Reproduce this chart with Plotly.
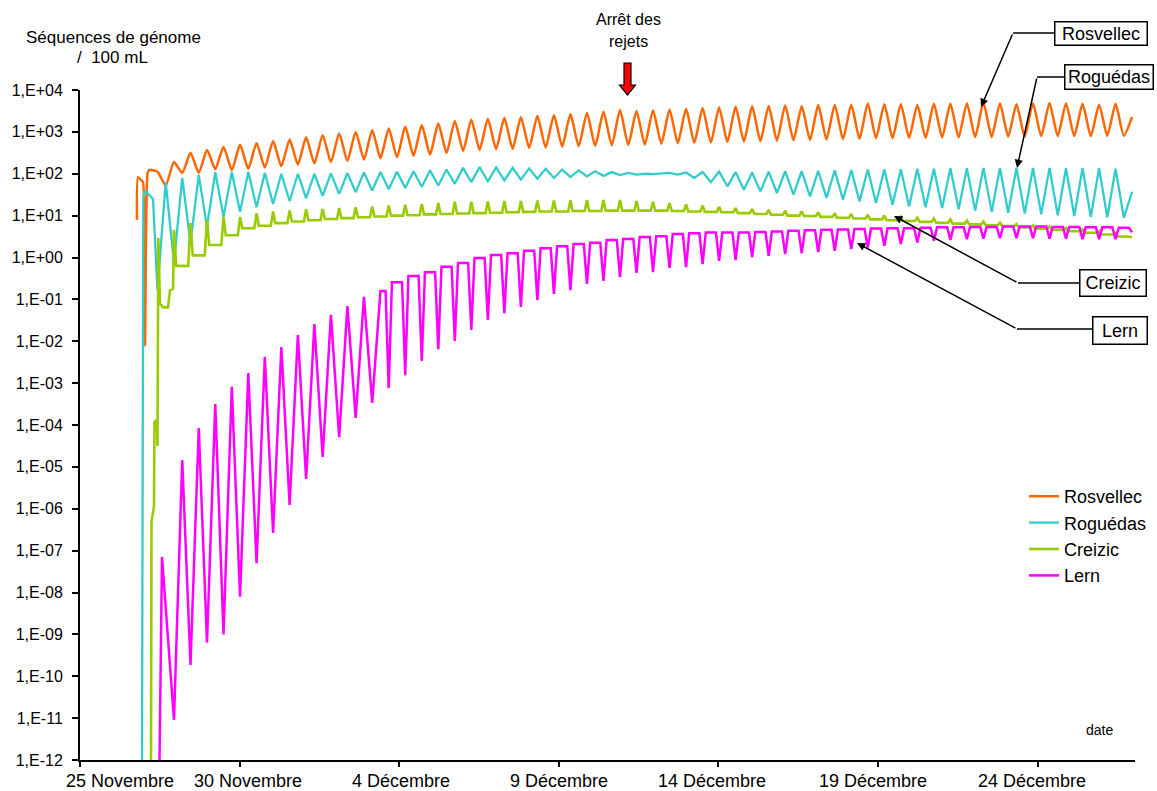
import numpy as np
import plotly.graph_objects as go

FONT = "Liberation Sans, Arial, Helvetica, sans-serif"

# ---------------------------------------------------------------- axes
# time is counted in days after 25 November, 00:00
x_tick_days = [0, 5, 10, 15, 20, 25, 30]
x_tick_labels = ["25 Novembre", "30 Novembre", "4 Décembre", "9 Décembre",
                 "14 Décembre", "19 Décembre", "24 Décembre"]
y_tick_exponents = [-12, -11, -10, -9, -8, -7, -6, -5, -4, -3, -2, -1, 0, 1, 2, 3, 4]
y_tick_labels = ["1,E-12", "1,E-11", "1,E-10", "1,E-09", "1,E-08", "1,E-07",
                 "1,E-06", "1,E-05", "1,E-04", "1,E-03", "1,E-02", "1,E-01",
                 "1,E+00", "1,E+01", "1,E+02", "1,E+03", "1,E+04"]

# ---------------------------------------------------------------- tides
# semi-diurnal schedule: high water k is at first_high_water + k * period
first_high_water_day = 1.909
tide_period_day = 0.5175
tide_count = 61

# ---------------------------------------------------------------- series
# all concentrations are log10(genome sequences / 100 mL)
# "hw" = value at high water k, "lw" = value at the following low water

# Rosvellec
rosvellec_onset_day = [1.786, 1.817, 1.911, 1.974, 2.036, 2.115, 2.162]
rosvellec_onset = [0.90, 1.92, 1.85, 1.80, -2.10, 2.00, 2.09]
rosvellec_hw_first = 1
rosvellec_hw = [2.05, 2.28, 2.50, 2.57, 2.64, 2.69, 2.73, 2.78, 2.82, 2.87,
                2.92, 2.96, 3.00, 3.04, 3.08, 3.12, 3.16, 3.20, 3.26, 3.29,
                3.31, 3.33, 3.35, 3.38, 3.40, 3.42, 3.45, 3.48, 3.52, 3.50,
                3.51, 3.53, 3.55, 3.57, 3.58, 3.60, 3.61, 3.62, 3.63, 3.61,
                3.64, 3.64, 3.65, 3.68, 3.66, 3.66, 3.64, 3.67, 3.67, 3.68,
                3.70, 3.68, 3.66, 3.68, 3.69, 3.68, 3.67, 3.65, 3.67, 3.36]
rosvellec_lw_first = 1
rosvellec_lw = [1.72, 2.02, 2.02, 2.11, 2.09, 2.12, 2.15, 2.18, 2.22, 2.25,
                2.28, 2.31, 2.34, 2.37, 2.40, 2.43, 2.46, 2.50, 2.55, 2.57,
                2.59, 2.60, 2.62, 2.63, 2.65, 2.66, 2.67, 2.68, 2.69, 2.70,
                2.72, 2.73, 2.74, 2.75, 2.76, 2.77, 2.78, 2.79, 2.80, 2.81,
                2.82, 2.83, 2.84, 2.85, 2.85, 2.86, 2.86, 2.87, 2.87, 2.88,
                2.88, 2.89, 2.89, 2.90, 2.90, 2.90, 2.90, 2.91, 2.91]

# Roguédas
roguedas_onset_day = [1.942, 1.983, 2.036, 2.099, 2.193, 2.287]
roguedas_onset = [-12.0, 1.42, 1.60, 1.55, 1.50, 1.40]
roguedas_hw_first = 1
roguedas_hw = [-0.78, -0.13, 0.35, 0.73, 0.97, 1.09, 1.20, 1.28, 1.35, 1.42,
               1.47, 1.52, 1.56, 1.60, 1.63, 1.66, 1.69, 1.72, 1.76, 1.80,
               1.82, 1.84, 1.86, 1.88, 1.90, 1.92, 1.94, 1.95, 1.97, 1.98,
               1.99, 2.02, 2.03, 2.04, 2.05, 2.04, 2.03, 2.05, 2.06, 2.06,
               2.07, 2.08, 2.09, 2.10, 2.10, 2.11, 2.12, 2.12, 2.13, 2.13,
               2.14, 2.14, 2.14, 2.14, 2.14, 2.13, 2.13, 2.13, 2.12, 1.57]
roguedas_lw_first = 1
roguedas_lw = [1.80, 1.90, 1.97, 2.04, 2.04, 2.04, 2.02, 2.00, 2.00, 2.00,
               2.01, 2.02, 2.03, 2.04, 2.05, 2.06, 2.08, 2.10, 2.14, 2.16,
               2.15, 2.14, 2.13, 2.12, 2.10, 2.08, 2.06, 2.04, 2.02, 2.00,
               2.00, 1.98, 1.90, 1.80, 1.70, 1.62, 1.58, 1.54, 1.50, 1.46,
               1.42, 1.38, 1.34, 1.30, 1.26, 1.22, 1.20, 1.18, 1.15, 1.12,
               1.09, 1.07, 1.05, 1.03, 1.01, 0.99, 0.97, 0.96, 0.95]

# Creizic
creizic_onset_day = [2.224, 2.240, 2.318, 2.334, 2.412, 2.428, 2.453,
                     2.506, 2.600, 2.757, 2.820, 2.914]
creizic_onset = [-12.0, -6.30, -5.95, -3.93, -3.88, -4.50, 0.47,
                 -1.10, -1.19, -1.19, -0.78, -0.75]
creizic_hw_first = 2
creizic_hw = [0.66, 0.82, 0.90, 0.97, 0.97, 1.06, 1.10, 1.12, 1.15,
              1.16, 1.18, 1.20, 1.22, 1.24, 1.26, 1.28, 1.30, 1.33, 1.33,
              1.34, 1.35, 1.35, 1.36, 1.36, 1.37, 1.37, 1.37, 1.37, 1.35,
              1.33, 1.30, 1.27, 1.24, 1.21, 1.18, 1.16, 1.14, 1.12, 1.10,
              1.08, 1.06, 1.04, 1.02, 1.00, 0.97, 0.95, 0.93, 0.91, 0.88,
              0.86, 0.83, 0.80, 0.77, 0.74, 0.71, 0.67, 0.63, 0.58, 0.49]
creizic_lw_first = 2
creizic_lw = [-0.20, 0.05, 0.30, 0.53, 0.70, 0.76, 0.82, 0.86, 0.89,
              0.92, 0.94, 0.96, 0.98, 1.00, 1.01, 1.03, 1.04, 1.05, 1.06,
              1.07, 1.08, 1.09, 1.10, 1.10, 1.11, 1.11, 1.12, 1.12, 1.12,
              1.12, 1.11, 1.10, 1.09, 1.08, 1.06, 1.04, 1.02, 1.00, 0.99,
              0.97, 0.95, 0.93, 0.91, 0.89, 0.87, 0.85, 0.83, 0.81, 0.79,
              0.77, 0.75, 0.72, 0.69, 0.66, 0.63, 0.59, 0.55, 0.50]

# Lern (minimum at high water, maximum at low water)
lern_onset_day = [2.491, 2.522, 2.569]
lern_onset = [-12.0, -10.0, -7.15]
lern_hw_first = 2
lern_hw = [-11.04, -9.73, -9.20, -9.00, -8.10, -7.30, -6.58, -5.91, -5.29,
           -4.76, -4.29, -3.83, -3.47, -3.12, -2.81, -2.47, -2.19, -1.99, -1.73,
           -1.49, -1.33, -1.18, -1.02, -0.87, -0.78, -0.63, -0.56, -0.47, -0.37,
           -0.35, -0.25, -0.23, -0.16, -0.08, -0.06, 0.01, 0.04, 0.08, 0.10,
           0.13, 0.16, 0.20, 0.24, 0.28, 0.32, 0.36, 0.40, 0.42, 0.44,
           0.45, 0.46, 0.46, 0.46, 0.45, 0.45, 0.44, 0.44, 0.44, 0.60]
lern_lw_first = 1
lern_lw = [-6.27, -4.84, -4.07, -3.50, -3.09, -2.76, -2.37, -2.14, -1.85, -1.59,
           -1.37, -1.16, -0.94, -0.80, -0.59, -0.44, -0.35, -0.22, -0.13, -0.01,
           0.06, 0.10, 0.16, 0.22, 0.27, 0.32, 0.35, 0.42, 0.44, 0.49,
           0.51, 0.56, 0.58, 0.60, 0.60, 0.60, 0.61, 0.62, 0.64, 0.65,
           0.66, 0.67, 0.68, 0.69, 0.70, 0.70, 0.71, 0.72, 0.72, 0.73,
           0.73, 0.74, 0.74, 0.74, 0.73, 0.73, 0.72, 0.72, 0.71]

# ---------------------------------------------------------------- layout geometry (pixels)
PLOT_L, PLOT_R, PLOT_T, PLOT_B = 80, 1135, 90, 760
X_RANGE = [0, 33.05]


def px_x(px):
    return (px - PLOT_L) / (PLOT_R - PLOT_L)


def px_y(py):
    return (PLOT_B - py) / (PLOT_B - PLOT_T)


hw_days = first_high_water_day + tide_period_day * np.arange(tide_count)
lw_days = hw_days + tide_period_day / 2


def tide_curve(onset_day, onset, hw_first, hw, lw_first, lw,
               spike=None, spike_from=0):
    """Join onset points and the high/low water values into one polyline.
    With `spike` (from tide `spike_from` on), the high-water value is a narrow
    excursion and the neighbouring low-water level is held until `spike` days
    before/after it."""
    lw_map = {lw_first + i: v for i, v in enumerate(lw)}
    pts = list(zip(onset_day, onset))
    for i, v in enumerate(hw):
        k = hw_first + i
        narrow = spike is not None and k >= spike_from
        if narrow and (k - 1) in lw_map:
            pts.append((hw_days[k] - spike, lw_map[k - 1]))
        pts.append((hw_days[k], v))
        if k in lw_map:
            if narrow:
                pts.append((hw_days[k] + spike, lw_map[k]))
            pts.append((lw_days[k], lw_map[k]))
    pts.sort(key=lambda p: p[0])
    t = np.array([p[0] for p in pts])
    y = 10.0 ** np.array([p[1] for p in pts])
    return t, y


series = [
    ("Rosvellec", "#FF6600", 2.5,
     tide_curve(rosvellec_onset_day, rosvellec_onset, rosvellec_hw_first,
                rosvellec_hw, rosvellec_lw_first, rosvellec_lw), "spline"),
    ("Roguédas", "#33CCCC", 2.3,
     tide_curve(roguedas_onset_day, roguedas_onset, roguedas_hw_first,
                roguedas_hw, roguedas_lw_first, roguedas_lw), "linear"),
    ("Creizic", "#99CC00", 2.6,
     tide_curve(creizic_onset_day, creizic_onset, creizic_hw_first,
                creizic_hw, creizic_lw_first, creizic_lw, spike=0.07), "linear"),
    ("Lern", "#FF00FF", 2.5,
     tide_curve(lern_onset_day, lern_onset, lern_hw_first,
                lern_hw, lern_lw_first, lern_lw, spike=0.10, spike_from=15),
     "linear"),
]

fig = go.Figure()
for name, color, width, (t, y), shape in series:
    fig.add_trace(go.Scatter(
        x=t, y=y, mode="lines", name=name,
        line=dict(color=color, width=width, shape=shape,
                  smoothing=0.6 if shape == "spline" else None),
    ))

annotations = []
shapes = []


def text_at(x, y, text, size):
    return dict(x=px_x(x), y=px_y(y), xref="paper", yref="paper", text=text,
                showarrow=False, xanchor="center", yanchor="middle",
                font=dict(size=size))


# date labels under the time axis
label_shift = [40, 8, 2, 0, -6, -5, -6]
for day, text, dx in zip(x_tick_days, x_tick_labels, label_shift):
    annotations.append(dict(
        x=day, xref="x", y=px_y(781), yref="paper", text=text,
        showarrow=False, xanchor="center", yanchor="middle", xshift=dx,
        font=dict(size=18)))

# unit of the vertical axis and of the time axis
annotations.append(text_at(113, 37, "Séquences de génome", 17))
annotations.append(text_at(112, 57, "/  100 mL", 17))
annotations.append(text_at(1099, 730, "date", 14))

# end of discharges
annotations.append(text_at(628, 20, "Arrêt des", 16))
annotations.append(text_at(628, 41, "rejets", 16))
arrow_pts = [(624, 63), (631, 63), (631, 85), (635.5, 85), (627.5, 95),
             (619.5, 85), (624, 85)]
shapes.append(dict(
    type="path", xref="paper", yref="paper",
    path="M " + " L ".join(f"{px_x(a):.5f},{px_y(b):.5f}" for a, b in arrow_pts) + " Z",
    fillcolor="#FF0000", line=dict(color="black", width=1.2)))

# boxed station names with leader lines
callouts = [
    # name, box centre, box size, elbow, arrow tip
    ("Rosvellec", (1101, 33.5), (94, 25), (1013, 33), (981, 107)),
    ("Roguédas", (1109, 77), (90, 26), (1037, 77), (1017, 168)),
    ("Creizic", (1113, 282.5), (68, 28), (1018, 283), (894, 216)),
    ("Lern", (1120, 330), (56, 29), (1017, 329), (857, 243)),
]
for name, (cx, cy), (bw, bh), (ex, ey), (tx, ty) in callouts:
    shapes.append(dict(type="line", xref="paper", yref="paper",
                       x0=px_x(cx - bw / 2), y0=px_y(ey), x1=px_x(ex), y1=px_y(ey),
                       line=dict(color="black", width=1.5)))
    annotations.append(dict(x=px_x(tx), y=px_y(ty), xref="paper", yref="paper",
                            ax=ex - tx, ay=ey - ty, axref="pixel", ayref="pixel",
                            text="", showarrow=True, arrowhead=2, arrowsize=1.1,
                            arrowwidth=1.5, arrowcolor="black", standoff=0))
    annotations.append(dict(x=px_x(cx), y=px_y(cy), xref="paper", yref="paper",
                            text=name, showarrow=False, font=dict(size=18),
                            bgcolor="white", bordercolor="black", borderwidth=1.5,
                            borderpad=1, width=bw - 5, height=bh - 5,
                            xanchor="center", yanchor="middle"))

fig.update_layout(
    width=1157, height=791,
    margin=dict(l=PLOT_L, r=1157 - PLOT_R, t=PLOT_T, b=791 - PLOT_B,
                autoexpand=False),
    paper_bgcolor="white", plot_bgcolor="white",
    font=dict(family=FONT, size=16, color="black"),
    showlegend=True,
    legend=dict(x=px_x(1024), y=px_y(478), xanchor="left", yanchor="top",
                font=dict(size=18), bgcolor="rgba(0,0,0,0)", itemwidth=30,
                tracegroupgap=0),
    annotations=annotations,
    shapes=shapes,
    xaxis=dict(range=X_RANGE, tickvals=x_tick_days, showticklabels=False,
               ticks="outside", ticklen=5, tickwidth=2, tickcolor="black",
               showline=True, linewidth=2, linecolor="black",
               showgrid=False, zeroline=False),
    yaxis=dict(type="log", range=[-12, 4],
               tickvals=[10.0 ** e for e in y_tick_exponents],
               ticktext=y_tick_labels, ticks="outside", ticklen=6, tickwidth=2,
               tickcolor="black", showline=True, linewidth=2, linecolor="black",
               showgrid=False, zeroline=False, tickfont=dict(size=16),
               ticklabelstandoff=6),
)

fig.write_html("out.html", post_script="document.body.style.margin='0';")
